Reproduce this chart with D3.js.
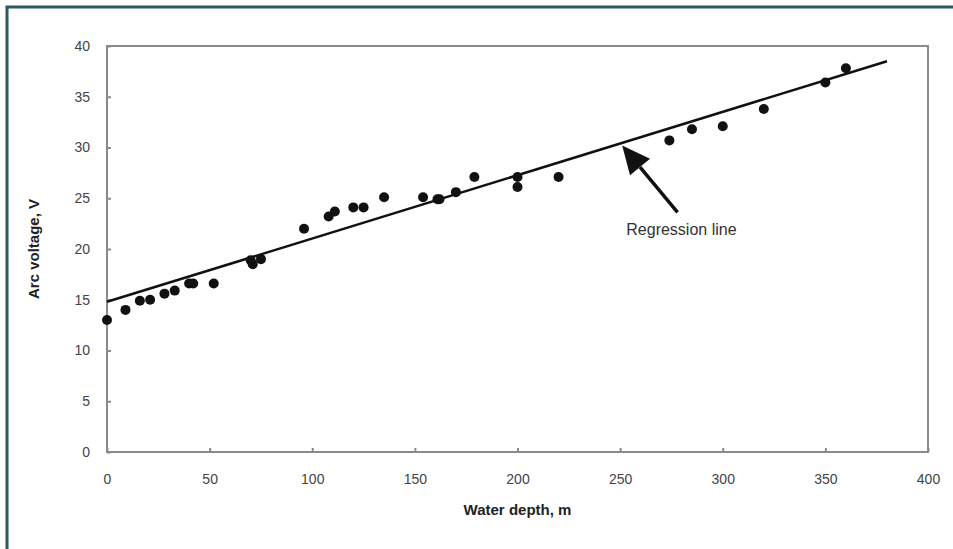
<!DOCTYPE html>
<html>
<head>
<meta charset="utf-8">
<script src="https://cdn.jsdelivr.net/npm/d3@7"></script>
<style>
  html, body { margin: 0; padding: 0; background: #fff; }
  svg { display: block; font-family: "Liberation Sans", Arial, sans-serif; }
</style>
</head>
<body>
<div id="chart"></div>
<script>
const width = 953;
const height = 549;
const margin = { top: 46, right: 25, bottom: 97, left: 107 };

// measured points
const depth = [0, 9, 16, 21, 28, 33, 40, 42, 52, 70, 71, 75, 96, 108, 111, 120, 125, 135, 154, 161, 162, 170, 179, 200, 200, 220, 274, 285, 300, 320, 350, 360];
const voltage = [13.0, 14.0, 14.9, 15.0, 15.6, 15.9, 16.6, 16.6, 16.6, 18.9, 18.5, 19.0, 22.0, 23.2, 23.7, 24.1, 24.1, 25.1, 25.1, 24.9, 24.9, 25.6, 27.1, 27.1, 26.1, 27.1, 30.7, 31.8, 32.1, 33.8, 36.4, 37.8];

// regression line end points
const lineDepth = [0, 380];
const lineVoltage = [14.8, 38.5];

const xTicks = [0, 50, 100, 150, 200, 250, 300, 350, 400];
const yTicks = [0, 5, 10, 15, 20, 25, 30, 35, 40];

const arrowLabel = "Regression line";
const arrowTip = [251, 30.2];
const arrowTail = [278, 23.6];
const labelPos = [253, 21.9];

const svg = d3.select('#chart')
    .append('svg')
    .attr('width', width)
    .attr('height', height);

// outer frame
svg.append('path')
    .attr('d', `M7,${height} V7 H${width}`)
    .attr('fill', 'none')
    .attr('stroke', '#2c5b5d')
    .attr('stroke-width', 3);

const x = d3.scaleLinear()
    .domain([0, 400])
    .range([margin.left, width - margin.right]);

const y = d3.scaleLinear()
    .domain([0, 40])
    .range([height - margin.bottom, margin.top]);

// plot box
svg.append('rect')
    .attr('x', x(0))
    .attr('y', y(40))
    .attr('width', x(400) - x(0))
    .attr('height', y(0) - y(40))
    .attr('fill', 'none')
    .attr('stroke', '#8a8a8a')
    .attr('stroke-width', 2);

function xAxis(g) {
    g.attr('transform', `translate(0,${y(0)})`)
        .call(d3.axisBottom(x).tickValues(xTicks).tickSize(-4).tickPadding(22))
        .call(g => g.select('.domain').remove())
        .call(g => g.selectAll('.tick line').attr('stroke', '#8a8a8a').attr('stroke-width', 2))
        .call(g => g.selectAll('.tick text')
            .attr('fill', '#444')
            .attr('font-size', '14px'));
}

function yAxis(g) {
    g.attr('transform', `translate(${x(0)},0)`)
        .call(d3.axisLeft(y).tickValues(yTicks).tickSize(-4).tickPadding(17))
        .call(g => g.select('.domain').remove())
        .call(g => g.selectAll('.tick line').attr('stroke', '#8a8a8a').attr('stroke-width', 2))
        .call(g => g.selectAll('.tick text')
            .attr('fill', '#444')
            .attr('font-size', '14px'));
}

svg.append('g').call(xAxis);
svg.append('g').call(yAxis);

// axis titles
svg.append('text')
    .attr('x', (x(0) + x(400)) / 2)
    .attr('y', 515)
    .attr('text-anchor', 'middle')
    .attr('font-size', '15px')
    .attr('font-weight', 'bold')
    .attr('fill', '#222')
    .text('Water depth, m');

svg.append('text')
    .attr('transform', `translate(39,${(y(0) + y(40)) / 2}) rotate(-90)`)
    .attr('text-anchor', 'middle')
    .attr('font-size', '15px')
    .attr('font-weight', 'bold')
    .attr('fill', '#222')
    .text('Arc voltage, V');

// regression line
svg.append('line')
    .attr('x1', x(lineDepth[0]))
    .attr('y1', y(lineVoltage[0]))
    .attr('x2', x(lineDepth[1]))
    .attr('y2', y(lineVoltage[1]))
    .attr('stroke', '#111')
    .attr('stroke-width', 2.5);

// data points
svg.append('g')
    .attr('fill', '#111')
    .selectAll('circle')
    .data(depth.map((d, i) => ({ depth: d, voltage: voltage[i] })))
    .join('circle')
        .attr('cx', d => x(d.depth))
        .attr('cy', d => y(d.voltage))
        .attr('r', 5);

// arrow annotation
const tipX = x(arrowTip[0]), tipY = y(arrowTip[1]);
const tailX = x(arrowTail[0]), tailY = y(arrowTail[1]);
const ang = Math.atan2(tipY - tailY, tipX - tailX);
const headLen = 28, headW = 13;
const bx = tipX - headLen * Math.cos(ang), by = tipY - headLen * Math.sin(ang);

svg.append('line')
    .attr('x1', tailX)
    .attr('y1', tailY)
    .attr('x2', bx)
    .attr('y2', by)
    .attr('stroke', '#111')
    .attr('stroke-width', 3.5);

svg.append('path')
    .attr('d', `M${tipX},${tipY} L${bx + headW * Math.sin(ang)},${by - headW * Math.cos(ang)} L${bx - headW * Math.sin(ang)},${by + headW * Math.cos(ang)} Z`)
    .attr('fill', '#111');

svg.append('text')
    .attr('x', x(labelPos[0]))
    .attr('y', y(labelPos[1]))
    .attr('dy', '0.35em')
    .attr('font-size', '16px')
    .attr('fill', '#333')
    .text(arrowLabel);
</script>
</body>
</html>
